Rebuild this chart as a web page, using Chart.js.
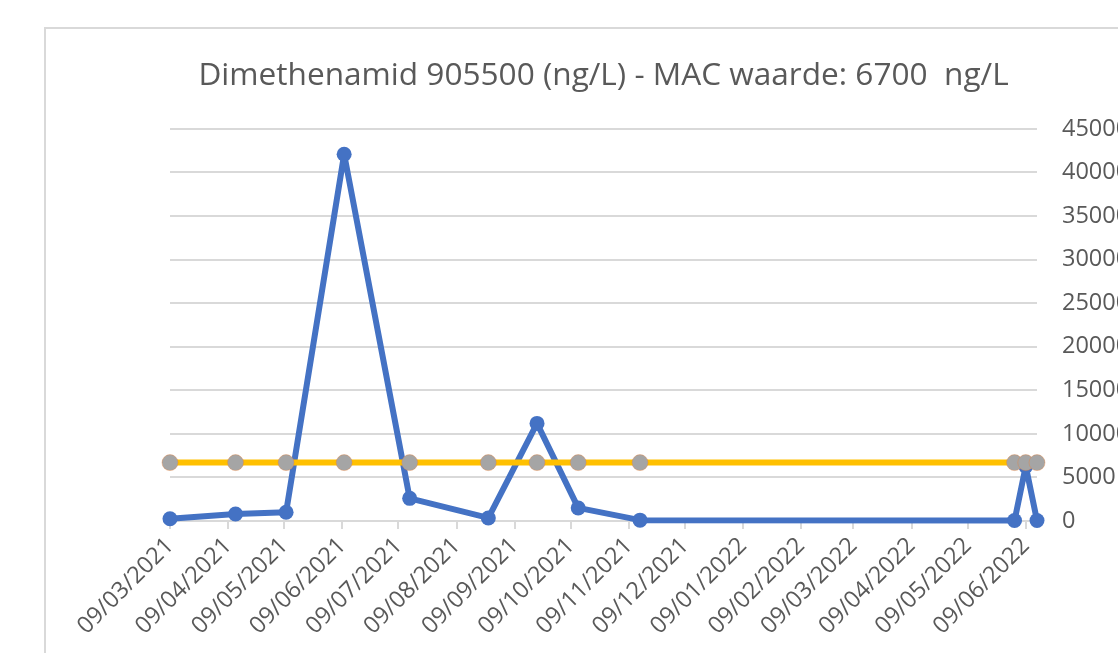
<!DOCTYPE html>
<html>
<head>
<meta charset="utf-8">
<title>Dimethenamid</title>
<script src="https://cdn.jsdelivr.net/npm/chart.js@4/dist/chart.umd.min.js"></script>
<style>
  html, body { margin: 0; padding: 0; background: #fff; overflow: hidden; }
  #frame {
    position: absolute; left: 44px; top: 27px; width: 1200px; height: 700px;
    border-left: 2px solid #d9d9d9; border-top: 2px solid #d9d9d9;
  }
  #wrap { position: absolute; left: 0; top: 0; width: 1200px; height: 653px; }
</style>
</head>
<body>
<div id="frame"></div>
<div id="wrap"><canvas id="chart" width="1200" height="653"></canvas></div>
<script>
  // sample dates (dd/mm/yyyy) and measured values in ng/L
  const sampleDates = [
    "09/03/2021", "13/04/2021", "10/05/2021", "10/06/2021", "15/07/2021", "26/08/2021",
    "21/09/2021", "13/10/2021", "15/11/2021", "03/06/2022", "09/06/2022", "15/06/2022",
  ];
  const dimethenamid = [260, 800, 1000, 42100, 2600, 350, 11200, 1500, 100, 50, 6300, 50];
  const macWaarde = [6700, 6700, 6700, 6700, 6700, 6700, 6700, 6700, 6700, 6700, 6700, 6700];

  const xTickLabels = [
    "09/03/2021", "09/04/2021", "09/05/2021", "09/06/2021", "09/07/2021", "09/08/2021",
    "09/09/2021", "09/10/2021", "09/11/2021", "09/12/2021", "09/01/2022", "09/02/2022",
    "09/03/2022", "09/04/2022", "09/05/2022", "09/06/2022",
  ];
  const yTicks = [0, 5000, 10000, 15000, 20000, 25000, 30000, 35000, 40000, 45000];

  const TEXT = "#595959";
  const GRID = "#d9d9d9";
  const FONT = "'Open Sans', 'Noto Sans', sans-serif";

  // dd/mm/yyyy -> day number
  function toDay(s) {
    const [d, m, y] = s.split("/").map(Number);
    return Date.UTC(y, m - 1, d) / 86400000;
  }

  const blueData = sampleDates.map((d, i) => ({ x: toDay(d), y: dimethenamid[i] }));
  const macData = sampleDates.map((d, i) => ({ x: toDay(d), y: macWaarde[i] }));

  new Chart(document.getElementById("chart"), {
    type: "line",
    data: {
      datasets: [
        {
          label: "Dimethenamid",
          data: blueData,
          borderColor: "#4472C4",
          backgroundColor: "#4472C4",
          borderWidth: 6,
          borderJoinStyle: "round",
          borderCapStyle: "round",
          pointRadius: 7.5,
          pointBorderWidth: 0,
          pointBackgroundColor: "#4472C4",
          tension: 0,
          clip: false,
          order: 2,
        },
        {
          label: "MAC waarde",
          data: macData,
          borderColor: "#FFC000",
          backgroundColor: "#A5A5A5",
          borderWidth: 6,
          borderJoinStyle: "round",
          pointRadius: 8,
          pointBorderWidth: 1,
          pointBorderColor: "rgba(237,125,49,0.35)",
          pointBackgroundColor: "#A5A5A5",
          tension: 0,
          clip: false,
          order: 1,
        },
      ],
    },
    options: {
      responsive: false,
      animation: false,
      devicePixelRatio: 1,
      layout: { padding: { left: 170, right: 0, top: 0, bottom: 0 } },
      plugins: {
        legend: { display: false },
        tooltip: { enabled: false },
        title: {
          display: true,
          fullSize: false,
          text: "Dimethenamid 905500 (ng/L) - MAC waarde: 6700  ng/L",
          color: TEXT,
          font: { family: FONT, size: 31.6, weight: "normal", lineHeight: 1.2 },
          padding: { top: 57, bottom: 34 },
        },
      },
      scales: {
        x: {
          type: "linear",
          min: toDay(sampleDates[0]),
          max: toDay(sampleDates[sampleDates.length - 1]),
          afterBuildTicks: (scale) => {
            scale.ticks = xTickLabels.map((l) => ({ value: toDay(l) }));
          },
          afterFit: (scale) => {
            scale.paddingLeft = 0;
            scale.paddingRight = 0;
            scale.height = 132;
          },
          ticks: {
            autoSkip: false,
            minRotation: 45,
            maxRotation: 45,
            padding: 3,
            color: TEXT,
            font: { family: FONT, size: 23.5 },
            callback: (v, i) => xTickLabels[i],
          },
          grid: { drawOnChartArea: false, drawTicks: true, tickLength: 8, color: GRID, lineWidth: 2 },
          border: { display: true, color: GRID, width: 2 },
        },
        y: {
          position: "right",
          min: 0,
          max: 45000,
          afterBuildTicks: (scale) => {
            scale.ticks = yTicks.map((v) => ({ value: v }));
          },
          afterFit: (scale) => {
            scale.paddingTop = 0;
            scale.paddingBottom = 0;
            scale.width = 1200 - 1037;
          },
          ticks: {
            padding: 25,
            color: TEXT,
            font: { family: FONT, size: 23.5 },
            callback: (v) => String(v),
          },
          grid: { drawTicks: false, color: GRID, lineWidth: 2 },
          border: { display: false },
        },
      },
    },
  });
</script>
</body>
</html>
